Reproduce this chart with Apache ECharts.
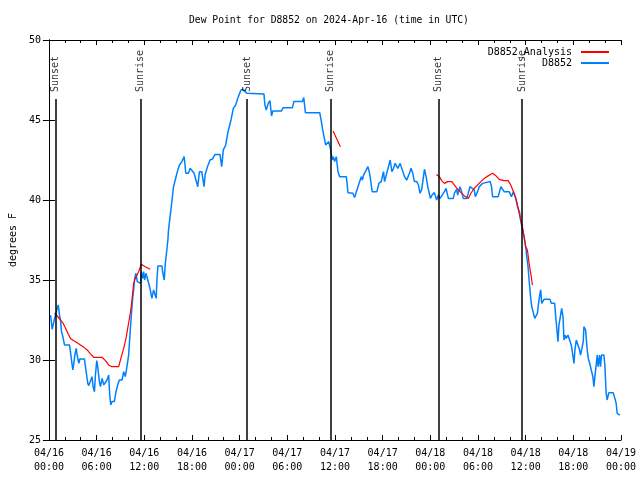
<!DOCTYPE html>
<html>
<head>
<meta charset="utf-8">
<script src="https://cdn.jsdelivr.net/npm/echarts@6/dist/echarts.min.js"></script>
<style>
html,body{margin:0;padding:0;background:#fff;}
#chart{width:640px;height:480px;}
</style>
</head>
<body>
<div id="chart"></div>
<script>
// Hours since 2024-04-16 00:00 UTC
var obsHours = [0.20,0.41,0.71,1.04,1.17,1.33,1.46,1.58,1.75,1.96,2.59,2.71,2.92,3.01,3.13,3.26,3.43,3.55,3.76,3.89,4.47,4.68,4.89,5.01,5.22,5.43,5.56,5.73,5.85,6.02,6.14,6.35,6.48,6.69,6.90,7.11,7.31,7.52,7.65,7.78,7.94,8.23,8.44,8.65,8.86,9.20,9.41,9.61,9.82,10.03,10.24,10.37,10.54,10.66,10.79,10.95,11.12,11.29,11.54,11.62,11.79,11.92,12.04,12.21,12.46,12.67,12.84,12.96,13.17,13.38,13.50,13.59,13.71,14.22,14.34,14.51,14.63,14.97,
15.05,15.35,15.68,15.89,16.22,16.43,16.73,17.02,17.23,17.56,17.77,17.98,18.27,18.73,18.94,19.23,19.53,19.65,19.95,20.28,20.57,20.91,21.53,21.74,21.95,22.25,22.50,22.71,22.91,23.21,23.50,23.84,24.17,24.46,24.88,25.09,
27.06,27.18,27.35,27.60,27.81,28.02,28.18,29.27,29.48,30.65,30.82,31.91,32.07,32.28,34.08,34.29,34.42,34.58,34.83,35.04,35.21,35.34,35.46,35.67,35.80,35.96,36.17,36.38,36.59,37.43,37.64,38.26,38.47,38.68,38.89,39.10,39.31,39.44,39.60,40.15,40.36,40.69,41.28,41.53,41.82,42.11,42.24,42.95,43.16,43.37,43.58,43.91,44.20,44.41,44.75,45.04,45.37,45.58,45.79,46.00,46.29,46.50,46.71,46.92,47.26,47.47,47.68,48.01,48.22,48.51,48.80,49.01,49.22,49.43,49.77,49.98,50.27,
50.89,51.02,51.31,51.44,51.73,51.94,52.15,52.57,52.78,52.99,53.24,53.53,53.66,53.95,54.16,54.37,54.58,54.78,55.54,55.71,55.83,56.54,56.88,57.09,57.29,57.92,58.21,58.46,58.76,58.97,59.22,59.39,59.59,59.80,60.05,
60.14,60.30,60.43,60.64,60.77,60.93,61.14,61.35,61.48,61.60,61.77,61.89,62.02,62.19,62.31,63.07,63.23,63.48,63.65,63.78,63.90,64.07,64.19,64.40,64.53,64.70,64.82,64.95,65.11,65.32,65.53,65.74,65.87,66.08,66.20,66.37,66.62,66.79,66.91,67.12,67.25,67.33,67.54,67.75,67.88,68.04,68.29,68.46,68.59,68.71,68.88,69.00,69.13,69.30,69.42,69.55,69.84,69.97,70.13,70.26,70.47,71.02,71.23,71.39,71.52,71.85];
var obsDew = [32.81,31.92,32.60,33.23,33.44,32.81,32.50,31.77,31.46,30.94,30.94,30.83,29.69,29.38,29.79,30.31,30.73,30.31,29.79,30.06,30.06,29.27,28.54,28.40,28.40,28.96,28.33,28.02,29.06,29.96,29.58,28.65,28.33,28.85,28.44,28.33,28.75,29.06,27.81,27.19,27.40,27.40,28.02,28.44,28.75,28.75,29.27,28.96,29.58,30.31,31.88,32.81,33.85,34.38,35.10,35.42,34.90,34.79,34.79,35.52,35.10,35.52,35.00,35.42,35.42,34.58,34.17,33.85,34.38,34.38,33.85,35.00,35.88,35.88,35.42,35.00,35.94,37.50,
38.13,39.38,40.83,40.94,41.88,42.19,42.40,42.71,41.67,41.67,41.98,41.98,41.67,40.83,41.77,41.77,40.83,41.56,42.08,42.50,42.56,42.85,42.85,42.08,43.13,43.44,44.17,44.17,45.00,45.73,45.94,46.46,46.88,46.92,46.67,46.63,
46.63,45.94,45.63,46.04,46.21,45.25,45.56,45.56,45.77,45.77,46.15,46.15,46.40,45.46,45.46,44.90,44.48,44.06,43.44,43.44,43.65,43.54,43.13,42.50,42.71,42.40,42.71,41.77,41.46,41.46,40.46,40.42,40.15,40.15,40.83,40.94,41.46,41.25,41.56,42.08,41.67,40.52,40.52,41.04,41.15,41.77,41.15,42.50,41.77,41.98,42.29,41.98,42.29,42.29,41.46,41.25,41.67,41.98,41.67,41.15,41.15,40.94,40.42,40.67,41.92,41.46,40.83,40.10,40.31,40.46,40.00,40.31,40.10,40.00,40.52,40.73,40.10,
40.10,40.42,40.67,40.31,40.83,40.52,40.10,40.10,40.42,40.83,40.83,40.63,40.21,40.52,40.83,40.88,41.04,41.15,41.15,40.83,40.21,40.21,40.83,40.83,40.52,40.52,40.21,40.52,40.10,39.58,39.27,38.65,38.54,37.71,36.88,
36.46,35.83,35.00,33.85,33.33,33.02,32.60,32.60,32.92,33.44,34.06,34.38,33.54,33.65,33.79,33.79,33.54,33.44,33.54,32.71,32.08,31.15,32.19,32.81,33.23,32.71,31.25,31.56,31.35,31.56,31.25,30.94,30.52,29.79,30.63,31.25,31.25,30.63,30.31,30.31,31.15,32.08,31.88,30.63,30.10,29.83,29.79,28.96,28.33,28.96,29.69,30.31,29.58,30.31,29.58,30.31,30.31,29.69,27.92,27.50,27.96,27.96,27.60,27.29,26.67,26.56];

// Analysis series (null = gap)
var anaHours = [0.71,1.04,1.46,1.79,2.09,2.38,2.71,3.13,3.55,3.97,4.39,4.81,5.22,5.64,6.69,7.11,7.52,7.94,8.78,9.11,9.41,9.70,9.95,10.24,10.45,10.66,10.87,11.29,11.62,12.12,12.75,
12.9,
35.76,36.68,
36.8,
48.76,49.14,49.43,49.77,50.18,50.69,51.02,51.44,51.86,52.27,52.78,53.11,53.53,53.95,54.37,54.78,55.12,55.83,56.25,56.67,57.29,57.80,58.13,58.46,58.76,58.97,59.18,59.39,59.59,59.80,60.01,60.22,60.43,60.64,60.85];
var anaDew = [32.92,32.75,32.50,32.29,31.98,31.67,31.35,31.21,31.08,30.94,30.79,30.63,30.38,30.17,30.17,29.96,29.69,29.58,29.58,30.21,30.73,31.35,32.08,32.92,33.75,34.79,35.10,35.52,35.98,35.83,35.67,
null,
44.31,43.33,
null,
41.60,41.46,41.21,41.04,41.15,41.15,40.94,40.67,40.46,40.27,40.10,40.42,40.73,40.94,41.15,41.35,41.46,41.67,41.52,41.29,41.21,41.21,40.94,40.52,40.10,39.69,39.17,38.75,38.33,37.71,37.08,36.88,36.04,35.42,34.69];

var sunHours = [0.83, 11.50, 24.92, 35.46, 49.01, 59.55];
var sunNames = ['Sunset', 'Sunrise', 'Sunset', 'Sunrise', 'Sunset', 'Sunrise'];
var sunLineTop = 46.31;
var sunLabelBase = 46.75;

var yTicks = [25, 30, 35, 40, 45, 50];

var FONT = 'DejaVu Sans Mono';

function pair(xs, ys) {
  var out = [];
  for (var i = 0; i < xs.length; i++) {
    out.push(ys[i] === null ? [xs[i], null] : [xs[i], ys[i]]);
  }
  return out;
}
function pad(n) { return (n < 10 ? '0' : '') + n; }
function fmtX(v) {
  var day = 16 + Math.floor(v / 24);
  var hr = Math.round(v % 24);
  return '04/' + pad(day) + '\n' + pad(hr) + ':00';
}

var sunMarkData = sunHours.map(function (h) {
  return [{ coord: [h, 25] }, { coord: [h, sunLineTop] }];
});
var sunLabelData = sunHours.map(function (h, i) {
  return { value: [h, sunLabelBase], name: sunNames[i] };
});

var chart = echarts.init(document.getElementById('chart'), null, { renderer: 'canvas' });
var axisLineStyle = { color: '#000', width: 1 };
chart.setOption({
  animation: false,
  backgroundColor: '#fff',
  textStyle: { fontFamily: FONT, fontSize: 10, color: '#000' },
  title: {
    text: 'Dew Point for D8852 on 2024-Apr-16 (time in UTC)',
    left: 189, top: 15, padding: 0,
    textStyle: { fontFamily: FONT, fontSize: 9.7, fontWeight: 'normal', color: '#000' }
  },
  legend: {
    orient: 'vertical',
    right: 26, top: 42,
    align: 'right',
    itemWidth: 28, itemHeight: 2, itemGap: 1,
    icon: 'rect',
    textStyle: { fontFamily: FONT, fontSize: 10, color: '#000', padding: [0, 4, 0, 0] },
    data: ['D8852_Analysis', 'D8852']
  },
  grid: { left: 47, right: 19, top: 40, bottom: 40, containLabel: false },
  xAxis: [{
    type: 'value', min: 0, max: 72, interval: 6, position: 'bottom',
    axisLine: { show: true, lineStyle: axisLineStyle },
    axisTick: { show: true, inside: true, length: 5, lineStyle: { color: '#000' } },
    minorTick: { show: true, splitNumber: 3, length: 3, lineStyle: { color: '#000' } },
    splitLine: { show: false },
    axisLabel: { formatter: fmtX, margin: 6, lineHeight: 14, fontFamily: FONT, fontSize: 10, color: '#000', showMinLabel: true, showMaxLabel: true }
  }, {
    type: 'value', min: 0, max: 72, interval: 6, position: 'top',
    axisLine: { show: true, lineStyle: axisLineStyle },
    axisTick: { show: true, inside: true, length: 5, lineStyle: { color: '#000' } },
    minorTick: { show: true, splitNumber: 3, length: 3, lineStyle: { color: '#000' } },
    splitLine: { show: false },
    axisLabel: { show: false }
  }],
  yAxis: [{
    type: 'value', min: yTicks[0], max: yTicks[yTicks.length - 1], interval: 5, position: 'left',
    name: 'degrees F', nameLocation: 'middle', nameGap: 30, nameRotate: 90,
    nameTextStyle: { fontFamily: FONT, fontSize: 10, color: '#000' },
    axisLine: { show: true, lineStyle: axisLineStyle },
    axisTick: { show: true, inside: true, length: 6, lineStyle: { color: '#000' } },
    splitLine: { show: false },
    axisLabel: { margin: 8, fontFamily: FONT, fontSize: 10, color: '#000' }
  }, {
    type: 'value', min: yTicks[0], max: yTicks[yTicks.length - 1], interval: 5, position: 'right',
    axisLine: { show: true, lineStyle: axisLineStyle },
    axisTick: { show: true, inside: true, length: 6, lineStyle: { color: '#000' } },
    splitLine: { show: false },
    axisLabel: { show: false }
  }],
  series: [{
    name: 'D8852_Analysis', type: 'line', xAxisIndex: 0, yAxisIndex: 0,
    data: pair(anaHours, anaDew), showSymbol: false, symbol: 'none', connectNulls: false,
    color: '#ff0000', lineStyle: { color: '#ff0000', width: 1.2 }, z: 3
  }, {
    name: 'D8852', type: 'line', xAxisIndex: 0, yAxisIndex: 0,
    data: pair(obsHours, obsDew), showSymbol: false, symbol: 'none',
    color: '#0080ff', lineStyle: { color: '#0080ff', width: 1.5 }, z: 2,
    markLine: {
      silent: true, symbol: 'none', animation: false,
      lineStyle: { color: '#000', width: 1.5, type: 'solid' },
      label: { show: false },
      data: sunMarkData
    }
  }, {
    name: 'sun', type: 'scatter', xAxisIndex: 0, yAxisIndex: 0,
    symbolSize: 0, silent: true,
    data: sunLabelData,
    label: {
      show: true, formatter: '{b}', rotate: 90, position: [0, 0],
      align: 'left', verticalAlign: 'middle',
      fontFamily: FONT, fontSize: 10, color: '#000'
    }
  }]
});
</script>
</body>
</html>
